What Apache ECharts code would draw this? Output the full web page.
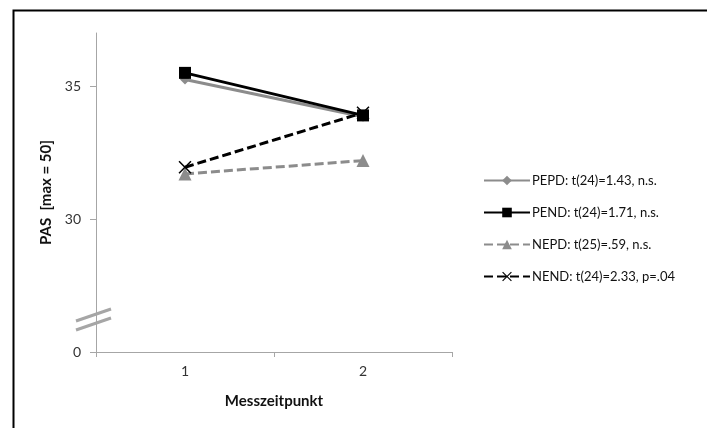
<!DOCTYPE html>
<html>
<head>
<meta charset="utf-8">
<script src="https://cdn.jsdelivr.net/npm/echarts@6/dist/echarts.min.js"></script>
<style>
html,body{margin:0;padding:0;background:#fff;}
#c{width:707px;height:428px;}
</style>
</head>
<body>
<div id="c"></div>
<script>
var categories = ['1', '2'];
var seriesNames = ['PEPD: t(24)=1.43, n.s.', 'PEND: t(24)=1.71, n.s.', 'NEPD: t(25)=.59, n.s.', 'NEND: t(24)=2.33, p=.04'];
var pepd = [35.25, 33.85];
var pend = [35.5, 33.9];
var nepd = [31.7, 32.2];
var nend = [31.95, 34.0];
var yTicks = [25, 30, 35];
var yTickLabels = {25: '0', 30: '30', 35: '35'};
var breakValue = 26.26;

var FONT = 'Lato';
var xPath = 'path://M0,1 L1,0 L6,5 L11,0 L12,1 L7,6 L12,11 L11,12 L6,7 L1,12 L0,11 L5,6 Z';

var chart = echarts.init(document.getElementById('c'));
var option = {
  backgroundColor: '#fff',
  animation: false,
  textStyle: {fontFamily: FONT},
  grid: {left: 96, right: 255, top: 33, bottom: 76, containLabel: false},
  xAxis: {
    type: 'category',
    data: categories,
    boundaryGap: true,
    name: 'Messzeitpunkt',
    nameLocation: 'middle',
    nameGap: 42,
    nameTextStyle: {fontFamily: FONT, fontSize: 15, fontWeight: 'bold', color: '#111'},
    axisLine: {lineStyle: {color: '#a6a6a6', width: 1}},
    axisTick: {show: true, length: 5, alignWithLabel: false, lineStyle: {color: '#a6a6a6'}},
    axisLabel: {fontFamily: FONT, fontSize: 14, color: '#333', margin: 12},
    splitLine: {show: false}
  },
  yAxis: {
    type: 'value',
    min: 25,
    max: 37,
    interval: 5,
    name: 'PAS  [max = 50]',
    nameLocation: 'middle',
    nameGap: 40,
    nameTextStyle: {fontFamily: FONT, fontSize: 15, fontWeight: 'bold', color: '#111'},
    axisLine: {show: true, lineStyle: {color: '#a6a6a6', width: 1}},
    axisTick: {show: true, length: 6, customValues: yTicks, lineStyle: {color: '#a6a6a6'}},
    axisLabel: {
      fontFamily: FONT, fontSize: 14, color: '#333', margin: 15,
      customValues: yTicks,
      formatter: function (v) { return yTickLabels[v] !== undefined ? yTickLabels[v] : ''; }
    },
    splitLine: {show: false}
  },
  legend: {
    orient: 'vertical',
    left: 478,
    top: 169,
    itemWidth: 46,
    itemHeight: 12,
    itemGap: 19,
    textStyle: {fontFamily: FONT, fontSize: 13, color: '#111', padding: [0, 0, 0, -3]},
    data: seriesNames
  },
  series: [
    {
      name: seriesNames[0], type: 'line', data: pepd,
      symbol: 'diamond', symbolSize: [10, 10],
      lineStyle: {color: '#8c8c8c', width: 3},
      itemStyle: {color: '#8c8c8c'}
    },
    {
      name: seriesNames[1], type: 'line', data: pend,
      symbol: 'rect', symbolSize: 12,
      lineStyle: {color: '#000', width: 3},
      itemStyle: {color: '#000'}
    },
    {
      name: seriesNames[2], type: 'line', data: nepd,
      symbol: 'triangle', symbolSize: 13,
      lineStyle: {color: '#8c8c8c', width: 3, type: [9, 4]},
      itemStyle: {color: '#8c8c8c'}
    },
    {
      name: seriesNames[3], type: 'line', data: nend,
      symbol: xPath, symbolSize: 13,
      lineStyle: {color: '#000', width: 3, type: [9, 4]},
      itemStyle: {color: '#000'}
    }
  ]
};
chart.setOption(option);

// decorations: frame and axis-break marks, positioned from the scales
var c1 = chart.convertToPixel({xAxisIndex: 0}, categories[0]);
var c2 = chart.convertToPixel({xAxisIndex: 0}, categories[1]);
var axisX = c1 - (c2 - c1) / 2;
var by = chart.convertToPixel({yAxisIndex: 0}, breakValue);
function brk(dy) {
  return {
    type: 'line', silent: true, z: 100,
    shape: {x1: axisX - 20, y1: by + dy + 7, x2: axisX + 15, y2: by + dy - 5},
    style: {stroke: '#a6a6a6', lineWidth: 3}
  };
}
chart.setOption({
  graphic: [
    {type: 'rect', silent: true, z: 100,
     shape: {x: 13.5, y: 10.5, width: 760, height: 460},
     style: {fill: 'none', stroke: '#000', lineWidth: 2}},
    brk(-4.5),
    brk(4.5)
  ]
});
</script>
</body>
</html>
